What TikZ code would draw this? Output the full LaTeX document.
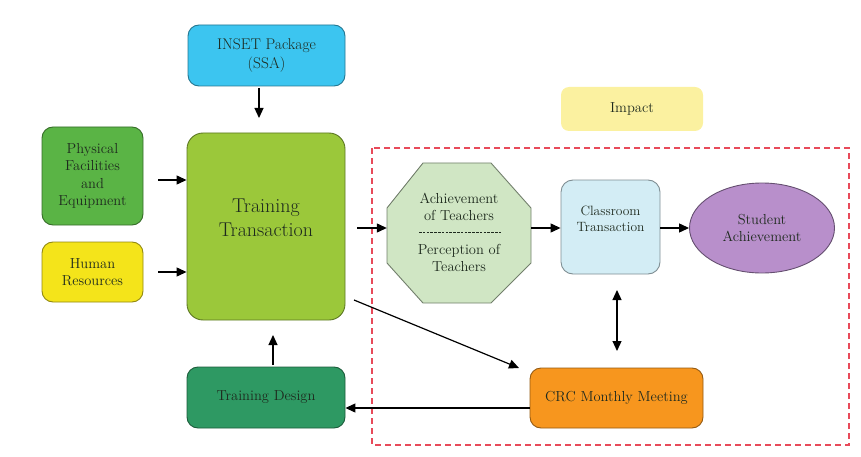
\documentclass[tikz,border=0pt]{standalone}
\usepackage{fontspec}
\usetikzlibrary{arrows.meta,shapes.geometric}
\definecolor{cinset}{HTML}{3CC5F0}
\definecolor{ctrain}{HTML}{9BC83A}
\definecolor{cphys}{HTML}{5AB445}
\definecolor{chuman}{HTML}{F4E41A}
\definecolor{cdesign}{HTML}{2E9963}
\definecolor{cimpact}{HTML}{FBF1A0}
\definecolor{coct}{HTML}{D0E6C4}
\definecolor{cclass}{HTML}{D3EDF5}
\definecolor{cstud}{HTML}{B88FCB}
\definecolor{ccrc}{HTML}{F7961E}
\definecolor{cred}{HTML}{E84A5A}
\definecolor{ctext}{HTML}{1E2A1E}
\tikzset{
  box/.style={draw=#1!60!black, fill=#1, rounded corners=11pt, align=center,
    text=ctext, line width=0.9pt, inner sep=2pt},
  arr/.style={-{Triangle[width=9pt,length=10pt]}, line width=1.2pt, black},
  darr/.style={{Triangle[width=9pt,length=10pt]}-{Triangle[width=9pt,length=10pt]}, line width=1.2pt, black},
  txt/.style={font=\fontsize{14.5}{17.5}\selectfont}
}
\begin{document}
\begin{tikzpicture}[x=1pt,y=-1pt]
\useasboundingbox (0,0) rectangle (861,457);
% dashed impact region
\draw[cred, line width=1.2pt, dash pattern=on 6pt off 4pt] (372,148) rectangle (849,445);
% nodes
\node[box=cinset, minimum width=157pt, minimum height=61pt, font=\fontsize{15.5}{18.5}\selectfont] (inset) at (266.5,55.5) {INSET Package\\(SSA)};
\node[box=ctrain, minimum width=158pt, minimum height=187pt, rounded corners=16pt] (train) at (266,226.5) {};
\node[text=ctext, align=center, font=\fontsize{20}{24}\selectfont] at (266,218) {Training\\Transaction};
\node[box=cphys, minimum width=101pt, minimum height=98pt, font=\fontsize{14.5}{17.5}\selectfont] (phys) at (92.5,176) {Physical\\Facilities\\and\\Equipment};
\node[box=chuman, minimum width=101pt, minimum height=60pt, txt] (human) at (92.5,272) {Human\\Resources};
\node[box=cdesign, minimum width=158pt, minimum height=61pt, txt] (design) at (266,397.5) {Training Design};
\node[box=cimpact, draw=none, minimum width=142pt, minimum height=44pt, rounded corners=8pt, txt] (impact) at (632,109) {Impact};
% octagon
\fill[coct, draw=coct!55!black, line width=0.9pt] (423,163) -- (491,163) -- (531,208) -- (531,263) -- (491,303) -- (423,303) -- (387,263) -- (387,208) -- cycle;
\node[minimum width=144pt, minimum height=140pt, inner sep=0pt] (oct) at (459,233) {};
\node[text=ctext, align=center, font=\fontsize{14.5}{17}\selectfont] at (459,207) {Achievement\\of Teachers};
\draw[ctext, line width=0.6pt, dash pattern=on 2.6pt off 1.2pt] (419,232) -- (501,232);
\node[text=ctext, align=center, font=\fontsize{14.5}{17}\selectfont] at (459,258) {Perception of\\Teachers};
\node[box=cclass, minimum width=99pt, minimum height=94pt, rounded corners=12pt] (class) at (610.5,227) {};
\node[text=ctext, align=center, font=\fontsize{13.5}{16}\selectfont] at (610.5,219) {Classroom\\Transaction};
\node[ellipse, draw=cstud!55!black, fill=cstud, line width=0.9pt, minimum width=145pt, minimum height=90pt, align=center, text=ctext, font=\fontsize{14.5}{17}\selectfont] (stud) at (762,228) {Student\\Achievement};
\node[box=ccrc, minimum width=173pt, minimum height=60pt, txt] (crc) at (616.5,398) {CRC Monthly Meeting};
% connectors
\coordinate (a1) at (259,88);
\draw[arr] (a1) -- (259,118);
\coordinate (p1) at (158,180);
\draw[arr] (p1) -- (p1 -| train.west);
\coordinate (h1) at (158,272);
\draw[arr] (h1) -- (h1 -| train.west);
\coordinate (d1) at (273,365);
\draw[arr] (d1) -- (273,335);
\coordinate (t1) at (357,228);
\draw[arr] (t1) -- (t1 -| oct.west);
\draw[arr] (oct.east |- 0,228) -- (class.west |- 0,228);
\draw[arr] (class.east |- 0,228) -- (stud.west);
\coordinate (c1) at (617,290);
\coordinate (c2) at (617,351);
\draw[darr] (c1) -- (c2);
\coordinate (s1) at (354,300);
\draw[arr] (s1) -- (519,368);
\draw[arr] (crc.west |- 0,408) -- (design.east |- 0,408);
\end{tikzpicture}
\end{document}
